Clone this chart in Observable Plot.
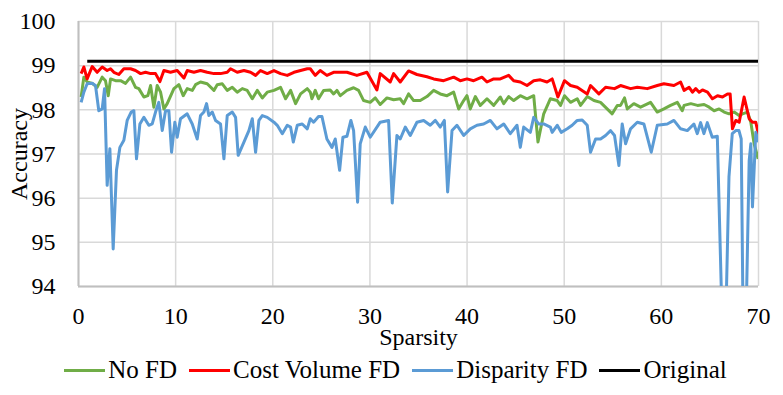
<!DOCTYPE html>
<html>
<head>
<meta charset="utf-8">
<script src="https://cdn.jsdelivr.net/npm/d3@7"></script>
<script src="https://cdn.jsdelivr.net/npm/@observablehq/plot@0.6"></script>
<style>
  html, body { margin: 0; padding: 0; background: #fff; }
  #chart { width: 783px; }
  .legend { display: flex; justify-content: center; align-items: center; height: 36px; width: 775px;
    padding-left: 8px; font-family: "Liberation Serif", serif; font-size: 25px; color: #000; }
  .legend .item { display: flex; align-items: center; margin: 0 6px; height: 36px; line-height: 36px; }
  .legend .sw { width: 41px; height: 3px; margin-right: 3px; }
</style>
</head>
<body>
<div id="chart"></div>
<script>
// ---- Data ----
const xTicks = [0, 10, 20, 30, 40, 50, 60, 70];
const yTicks = [94, 95, 96, 97, 98, 99, 100];
const seriesNames = ["No FD", "Cost Volume FD", "Disparity FD", "Original"];
const seriesColors = ["#70AD47", "#FF0000", "#5B9BD5", "#000000"];

const sparsityNoFD = [0.27,0.55,0.89,1.41,1.92,2.44,2.78,3.06,3.30,3.81,4.33,4.84,5.36,5.87,6.21,6.73,7.14,7.42,7.76,8.10,8.45,8.79,9.13,9.82,10.33,10.78,11.19,11.71,12.05,12.56,13.25,13.94,14.28,14.80,15.31,15.83,16.34,16.86,17.37,17.89,18.40,18.92,19.43,20.12,20.80,21.32,21.83,22.35,22.86,23.55,23.86,24.03,24.37,24.71,25.23,25.91,26.26,26.60,26.95,27.63,28.32,28.83,29.35,30.03,30.55,31.06,31.75,32.44,33.12,33.47,33.98,34.50,35.18,35.87,36.56,37.24,37.93,38.62,39.13,39.65,39.99,40.33,40.85,41.36,42.05,42.74,43.42,43.77,44.28,44.80,45.48,46.17,46.86,47.30,47.89,48.57,49.28,49.62,50.03,50.65,51.34,51.68,52.37,53.06,53.74,54.94,55.46,55.80,56.21,56.49,57.17,57.86,58.89,59.58,60.26,60.95,61.64,62.15,62.34,63.03,63.72,64.40,64.92,65.43,65.95,66.46,66.98,67.49,68.01,68.35,68.87,69.21,69.55,69.96];
const accNoFD = [98.29,98.74,98.63,98.60,98.51,98.74,98.66,98.32,98.70,98.66,98.66,98.60,98.74,98.51,98.48,98.29,98.32,98.55,98.06,98.55,98.40,98.02,98.14,98.48,98.57,98.32,98.48,98.44,98.57,98.63,98.59,98.44,98.57,98.59,98.44,98.51,98.40,98.48,98.44,98.25,98.44,98.27,98.40,98.44,98.51,98.25,98.44,98.14,98.36,98.48,98.40,98.25,98.44,98.25,98.44,98.45,98.36,98.44,98.32,98.44,98.50,98.44,98.21,98.17,98.27,98.12,98.27,98.23,98.25,98.14,98.36,98.21,98.21,98.30,98.44,98.36,98.32,98.40,98.02,98.21,98.32,98.02,98.30,98.10,98.25,98.10,98.29,98.14,98.30,98.21,98.32,98.25,98.32,97.27,97.91,98.25,98.21,98.10,98.32,98.17,98.25,98.10,98.30,98.21,98.17,97.91,98.10,98.10,98.27,98.02,98.14,98.06,98.17,97.95,98.02,98.10,98.17,97.98,98.10,98.14,98.10,98.12,98.06,97.98,98.02,97.95,97.91,97.95,97.87,97.91,97.95,97.72,97.23,96.89];

const sparsityCostVolume = [0.27,0.55,0.89,1.41,1.92,2.44,2.95,3.30,3.64,4.15,4.67,5.36,5.87,6.39,6.90,7.42,7.93,8.38,8.79,9.47,10.16,10.85,11.19,11.88,12.56,13.25,13.94,14.62,15.31,15.65,16.34,17.03,17.71,18.23,18.74,19.43,20.12,20.80,21.49,22.18,22.86,23.55,23.86,24.37,24.88,25.57,26.26,27.63,28.66,29.69,30.72,31.06,32.09,32.44,33.12,33.98,34.84,35.87,36.56,37.59,38.62,39.30,39.99,40.68,41.53,42.05,42.74,43.42,44.28,44.80,45.48,46.17,46.86,47.54,48.23,48.76,49.35,50.03,50.65,51.34,52.37,52.71,53.57,54.26,55.18,55.80,56.83,57.52,58.55,59.58,60.26,61.29,61.98,62.34,62.86,63.20,63.54,63.89,64.23,64.75,65.26,65.78,66.29,66.81,67.08,67.32,67.66,68.01,68.52,69.04,69.38,69.72,70.00];
const accCostVolume = [98.82,98.97,98.70,98.98,98.85,98.97,98.89,98.93,98.85,98.80,98.93,98.93,98.89,98.82,98.85,98.82,98.82,98.64,98.89,98.85,98.89,98.72,98.89,98.85,98.89,98.85,98.82,98.82,98.85,98.93,98.85,98.89,98.85,98.78,98.89,98.82,98.89,98.82,98.78,98.85,98.89,98.93,98.93,98.78,98.89,98.78,98.85,98.85,98.78,98.85,98.45,98.82,98.63,98.82,98.63,98.88,98.80,98.75,98.70,98.66,98.74,98.66,98.70,98.66,98.74,98.63,98.70,98.70,98.78,98.66,98.63,98.55,98.66,98.68,98.63,98.70,98.29,98.66,98.55,98.51,98.36,98.55,98.36,98.51,98.48,98.55,98.48,98.51,98.48,98.55,98.59,98.55,98.63,98.44,98.51,98.40,98.48,98.40,98.45,98.40,98.25,98.32,98.29,98.36,98.36,97.57,97.76,97.72,98.29,97.80,97.72,97.72,97.44];

const sparsityDisparity = [0.27,0.55,0.89,1.41,1.75,2.09,2.44,2.68,2.95,3.23,3.57,3.91,4.26,4.67,5.01,5.42,5.70,5.97,6.32,6.73,7.24,7.59,7.93,8.27,8.62,8.96,9.30,9.58,9.92,10.16,10.50,11.19,11.71,12.22,12.56,12.91,13.18,13.42,13.77,14.11,14.62,14.97,15.31,15.83,16.17,16.44,17.03,17.54,17.89,18.23,18.57,18.92,19.43,20.12,20.46,20.98,21.49,21.83,22.11,22.52,23.03,23.55,23.86,24.20,24.71,25.06,25.57,26.09,26.43,26.88,27.22,27.63,28.04,28.32,28.73,29.00,29.52,30.03,31.06,31.92,32.30,32.78,33.12,33.64,34.15,34.84,35.53,36.21,36.73,37.24,37.66,38.00,38.45,38.96,39.65,40.33,41.02,41.71,42.39,43.08,43.77,44.45,45.14,45.48,45.83,46.51,46.86,47.37,47.89,48.57,48.76,49.28,49.69,50.31,50.82,51.34,51.85,52.37,52.71,53.23,53.74,54.26,54.77,55.18,55.63,55.97,56.32,56.83,57.52,58.20,58.96,59.58,60.61,61.29,61.98,62.67,63.35,63.70,64.04,64.38,64.73,65.24,65.76,66.46,66.96,67.30,67.66,67.99,68.22,68.52,69.04,69.21,69.38,69.72,70.00];
const accDisparity = [98.17,98.40,98.59,98.60,98.55,97.98,98.02,98.48,96.29,97.12,94.85,96.63,97.15,97.31,97.76,97.95,97.98,96.89,97.68,97.83,97.65,97.68,97.95,98.17,97.53,97.98,97.98,97.04,97.72,97.38,97.80,97.91,97.68,97.34,97.87,97.95,98.14,97.87,97.95,97.76,97.68,96.89,97.87,97.95,97.83,96.97,97.27,97.53,97.80,97.04,97.76,97.87,97.83,97.72,97.65,97.46,97.65,97.61,97.27,97.65,97.68,97.57,97.80,97.72,97.85,97.85,97.34,97.15,97.34,96.63,97.38,97.40,97.76,97.53,95.91,97.23,97.61,97.38,97.72,97.76,95.89,97.42,97.34,97.61,97.42,97.72,97.76,97.65,97.76,97.61,97.76,96.14,97.53,97.65,97.42,97.57,97.65,97.68,97.76,97.57,97.68,97.46,97.65,97.15,97.61,97.49,97.83,97.68,97.68,97.61,97.49,97.65,97.49,97.57,97.65,97.76,97.77,97.65,97.04,97.34,97.34,97.42,97.53,97.42,96.74,97.68,97.23,97.57,97.72,97.68,97.04,97.65,97.68,97.76,97.57,97.53,97.68,97.46,97.71,97.46,97.71,97.38,97.40,91.5,96.48,97.46,97.53,97.53,97.34,91.0,96.85,97.23,95.80,97.49,97.27];

const sparsityOriginal = [0.9, 70];
const accOriginal = [99.1, 99.1];

// ---- Build long table ----
const xsList = [sparsityNoFD, sparsityCostVolume, sparsityDisparity, sparsityOriginal];
const ysList = [accNoFD, accCostVolume, accDisparity, accOriginal];
const data = [];
seriesNames.forEach((name, i) => {
  xsList[i].forEach((x, j) => data.push({series: name, sparsity: x, accuracy: ysList[i][j]}));
});

const FONT = '"Liberation Serif", serif';

const chart = Plot.plot({
  width: 783,
  height: 352,
  marginTop: 21,
  marginBottom: 66,
  marginLeft: 78,
  marginRight: 25,
  style: {fontFamily: FONT, fontSize: "24px", color: "#000", background: "#fff"},
  x: {domain: [0, 70]},
  y: {domain: [94, 100]},
  color: {domain: seriesNames, range: seriesColors},
  marks: [
    Plot.ruleX(xTicks, {stroke: "#D9D9D9", strokeWidth: 1.5}),
    Plot.ruleY(yTicks, {stroke: "#D9D9D9", strokeWidth: 1.5}),
    Plot.ruleX([0], {stroke: "#BFBFBF", strokeWidth: 2}),
    Plot.ruleY([94], {stroke: "#BFBFBF", strokeWidth: 2}),
    Plot.axisX(xTicks, {tickSize: 0, tickPadding: 20, label: null, fontSize: 24, fontFamily: FONT}),
    Plot.axisY(yTicks, {tickSize: 0, tickPadding: 23, label: null, fontSize: 24, fontFamily: FONT}),
    Plot.line(data, {x: "sparsity", y: "accuracy", z: "series", stroke: "series",
      strokeWidth: 3, clip: true, strokeLinejoin: "round", strokeLinecap: "butt"}),
    Plot.text(["Sparsity"], {frameAnchor: "bottom", lineAnchor: "middle", textAnchor: "middle",
      dy: 51, fontSize: 24, fontFamily: FONT, fill: "#000"}),
    Plot.text(["Accuracy"], {frameAnchor: "left", lineAnchor: "middle", textAnchor: "middle",
      dx: -59, rotate: -90, fontSize: 24, fontFamily: FONT, fill: "#000"})
  ]
});
document.getElementById("chart").appendChild(chart);

// ---- Legend (HTML, below the SVG) ----
const legend = document.createElement("div");
legend.className = "legend";
seriesNames.forEach((name, i) => {
  const item = document.createElement("div");
  item.className = "item";
  const sw = document.createElement("span");
  sw.className = "sw";
  sw.style.background = seriesColors[i];
  const label = document.createElement("span");
  label.textContent = name;
  item.appendChild(sw);
  item.appendChild(label);
  legend.appendChild(item);
});
document.getElementById("chart").appendChild(legend);
</script>
</body>
</html>
